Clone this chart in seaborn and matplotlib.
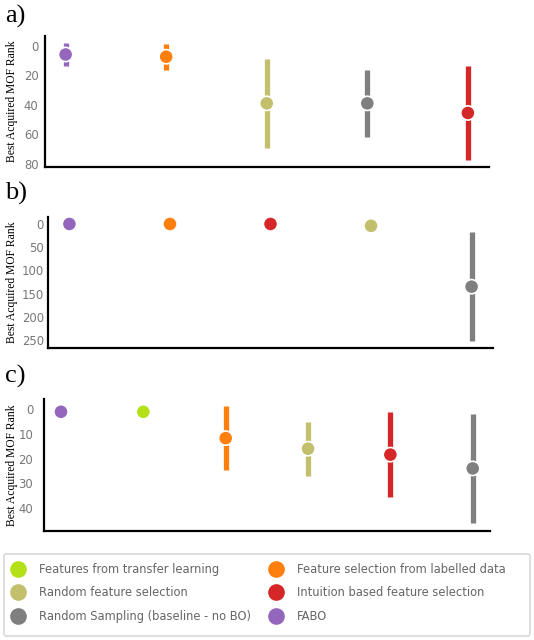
import numpy as np
import seaborn as sns
import matplotlib.pyplot as plt
import pandas as pd
from matplotlib.lines import Line2D
from matplotlib.patches import FancyBboxPatch

# method names and colours
m_tl = 'Features from transfer learning'
m_lab = 'Feature selection from labelled data'
m_rfs = 'Random feature selection'
m_int = 'Intuition based feature selection'
m_rs = 'Random Sampling (baseline - no BO)'
m_fabo = 'FABO'

palette = {
    m_tl: '#b3e016',
    m_lab: '#ff7f0e',
    m_rfs: '#c2c06c',
    m_int: '#d62728',
    m_rs: '#7f7f7f',
    m_fabo: '#9467bd',
}

# panel a)
a_methods = [m_fabo, m_lab, m_rfs, m_rs, m_int]
a_mean = [6, 7.5, 39, 39, 45.5]
a_err = [8, 8.8, 30, 22.6, 32]

# panel b)
b_methods = [m_fabo, m_lab, m_int, m_rfs, m_rs]
b_mean = [0, 0, 0, 4, 135]
b_err = [0, 0, 0, 0, 118]

# panel c)
c_methods = [m_fabo, m_tl, m_lab, m_rfs, m_int, m_rs]
c_mean = [1, 1, 11.7, 16, 18.4, 24]
c_err = [0, 0, 13.1, 11, 17.3, 22.2]

panels = [
    ('a)', a_methods, a_mean, a_err, [0, 20, 40, 60, 80], (82, -6.5)),
    ('b)', b_methods, b_mean, b_err, [0, 50, 100, 150, 200, 250], (267, -15)),
    ('c)', c_methods, c_mean, c_err, [0, 10, 20, 30, 40], (49.3, -4.2)),
]

legend_order = [m_tl, m_rfs, m_rs, m_lab, m_int, m_fabo]

sns.set_theme(style='white')
plt.rcParams['font.family'] = ['DejaVu Sans']

W, H = 534, 640
fig = plt.figure(figsize=(W / 100, H / 100), dpi=100)
# axes boxes in pixels: left, top, right, bottom
ax_px = [
    (44.5, 36, 489, 167),
    (48.3, 217, 492.7, 348),
    (43.7, 399, 490, 530.7),
]
tag_y = [5, 182, 365]  # top of panel letters, px
tick_len = [1.8, 1.5, 3.5]
tick_pad = [2.4, 1.6, 4.0]
ylabel_x = 18  # right side of the rotated y label, px

for (tag, methods, mean, err, ticks, ylim), (l, t, r, b), ty, tl, tp in zip(
        panels, ax_px, tag_y, tick_len, tick_pad):
    ax = fig.add_axes([l / W, 1 - b / H, (r - l) / W, (b - t) / H])
    df = pd.DataFrame({'method': methods, 'mean': mean, 'err': err})
    pos = np.arange(len(df))
    for i, row in df.iterrows():
        if row['err'] > 0:
            ax.vlines(pos[i], row['mean'] - row['err'], row['mean'] + row['err'],
                      color=palette[row['method']], lw=3.8, zorder=2)
    sns.scatterplot(data=df, x='method', y='mean', hue='method', palette=palette,
                    s=105, edgecolor='white', linewidth=1.2, legend=False,
                    zorder=3, ax=ax)
    ax.set_xlim(-0.21, len(df) - 1 + 0.21)
    ax.set_ylim(*ylim)
    ax.set_yticks(ticks)
    ax.set_xticks([])
    ax.set_xlabel('')
    ax.set_ylabel('Best Acquired MOF Rank', family='Liberation Serif',
                  fontsize=8.4, color='black')
    ax.yaxis.set_label_coords((ylabel_x - l) / (r - l), 0.5)
    ax.tick_params(axis='y', labelsize=8.4, labelcolor='#777777', length=tl,
                   color='#aaaaaa', pad=tp)
    ax.spines.right.set_visible(False)
    ax.spines.top.set_visible(False)
    for s in ['left', 'bottom']:
        ax.spines[s].set_color('black')
        ax.spines[s].set_linewidth(1.6)
    fig.text(5 / W, 1 - ty / H, tag, family='Liberation Serif',
             fontsize=19, color='black', va='top')

# legend frame drawn separately so it can be wider than its content
frame = FancyBboxPatch((4 / W, 4 / H), 526 / W, 82 / H, transform=fig.transFigure,
                       boxstyle='round,pad=0,rounding_size=0.004',
                       facecolor='white', edgecolor='#d8d8d8', linewidth=1.2)
fig.patches.append(frame)

handles = [Line2D([], [], marker='o', ls='', markersize=12,
                  markerfacecolor=palette[m], markeredgecolor='none')
           for m in legend_order]
leg = fig.legend(handles, legend_order, loc='upper left',
                 bbox_to_anchor=(10 / W, 1 - 563 / H), borderaxespad=0,
                 borderpad=0, ncol=2, frameon=False,
                 fontsize=8.3, handletextpad=1.13, handlelength=1.4,
                 columnspacing=1.47, labelspacing=0.9)
for t in leg.get_texts():
    t.set_color('#666666')

fig.savefig('out.png', dpi=100)
